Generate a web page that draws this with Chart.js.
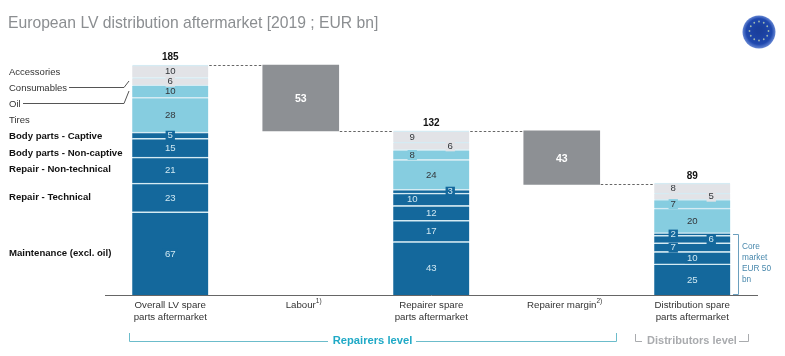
<!DOCTYPE html>
<html>
<head>
<meta charset="utf-8">
<title>European LV distribution aftermarket</title>
<script src="https://cdn.jsdelivr.net/npm/chart.js@4"></script>
<style>
    html, body { margin: 0; padding: 0; background: #fff; }
    canvas { display: block; }
</style>
</head>
<body>
<canvas id="chart" width="785" height="356"></canvas>
<script>
// data (EUR bn), bottom segment first
const categories = [
    ['Overall LV spare', 'parts aftermarket'],
    'Labour',
    ['Repairer spare', 'parts aftermarket'],
    'Repairer margin',
    ['Distribution spare', 'parts aftermarket']
];
const footnotes = ['', '1)', '', '2)', ''];
const totals = [185, null, 132, null, 89];
const floating = [null, [132, 185], null, [89, 132], null];
const maintenance = [67, null, 43, null, 25];
const repairTechnical = [23, null, 17, null, 10];
const repairNonTechnical = [21, null, 12, null, 7];
const bodyNonCaptive = [15, null, 10, null, 6];
const bodyCaptive = [5, null, 3, null, 2];
const tires = [28, null, 24, null, 20];
const oil = [10, null, 8, null, 7];
const consumables = [6, null, 6, null, 5];
const accessories = [10, null, 9, null, 8];
const coreText = ['Core', 'market', 'EUR 50', 'bn'];

const FONT = '"Liberation Sans", Arial, sans-serif';
const DARK = '#14689c';
const LIGHT = '#86cde0';
const PALE = '#e2e3e7';
const GREY = '#8d9094';

// label nudges per bar, so small segments don't collide (-1 left, +1 right)
const SHIFT = 19;
const shifts = {
    2: { maintenance: 0, bodyNonCaptive: -1, bodyCaptive: 1, oil: -1, consumables: 1, accessories: -1 },
    4: { repairNonTechnical: -1, bodyNonCaptive: 1, bodyCaptive: -1, oil: -1, consumables: 1, accessories: -1 }
};

function series(key, label, values, color, bold, labelY) {
    return {
        key, label, data: values, backgroundColor: color, labelY, bold,
        borderColor: '#d5ebf3',
        borderWidth: { top: 1.5, right: 0, bottom: 0, left: 0 },
        borderSkipped: false,
        barThickness: 76
    };
}

const datasets = [
    { key: 'floating', data: floating, backgroundColor: GREY, barThickness: 76 },
    series('maintenance', 'Maintenance (excl. oil)', maintenance, DARK, true, 253),
    series('repairTechnical', 'Repair - Technical', repairTechnical, DARK, true, 197),
    series('repairNonTechnical', 'Repair - Non-technical', repairNonTechnical, DARK, true, 169.5),
    series('bodyNonCaptive', 'Body parts - Non-captive', bodyNonCaptive, DARK, true, 153),
    series('bodyCaptive', 'Body parts - Captive', bodyCaptive, DARK, true, 136.5),
    series('tires', 'Tires', tires, LIGHT, false, 120),
    series('oil', 'Oil', oil, LIGHT, false, 104),
    series('consumables', 'Consumables', consumables, PALE, false, 88),
    series('accessories', 'Accessories', accessories, PALE, false, 72)
];

function text(ctx, str, x, y, font, color, align) {
    ctx.font = font;
    ctx.fillStyle = color;
    ctx.textAlign = align || 'left';
    ctx.textBaseline = 'middle';
    ctx.fillText(str, x, y);
}

function polyline(ctx, points, color, width, dash) {
    ctx.beginPath();
    ctx.strokeStyle = color;
    ctx.lineWidth = width || 1;
    ctx.setLineDash(dash || []);
    points.forEach((p, i) => i ? ctx.lineTo(p[0], p[1]) : ctx.moveTo(p[0], p[1]));
    ctx.stroke();
    ctx.setLineDash([]);
}

// everything Chart.js has no built-in for: value labels, connectors, brackets, logo
const annotations = {
    id: 'annotations',
    afterDatasetsDraw(chart) {
        const { ctx, scales: { x, y } } = chart;
        ctx.save();

        text(ctx, 'European LV distribution aftermarket [2019 ; EUR bn]', 8, 24, '15.7px ' + FONT, '#8b8e91');

        // value labels inside the segments
        datasets.forEach((ds, d) => {
            const meta = chart.getDatasetMeta(d);
            ds.data.forEach((v, i) => {
                if (v === null) return;
                const bar = meta.data[i];
                if (ds.key === 'floating') {
                    text(ctx, String(v[1] - v[0]), bar.x, (bar.y + bar.base) / 2 + 1, 'bold 10.5px ' + FONT, '#fff', 'center');
                    return;
                }
                const shift = (shifts[i] && shifts[i][ds.key]) || 0;
                const cx = bar.x + shift * SHIFT;
                const cy = (bar.y + bar.base) / 2 + 0.5;
                const str = String(v);
                ctx.font = '9.6px ' + FONT;
                const w = ctx.measureText(str).width + 4;
                ctx.fillStyle = ds.backgroundColor;
                ctx.fillRect(cx - w / 2, cy - 5, w, 10);
                const color = ds.backgroundColor === DARK ? '#cfe8f2' : '#33363a';
                text(ctx, str, cx, cy, '9.6px ' + FONT, color, 'center');
            });
        });

        // totals above the stacks
        totals.forEach((t, i) => {
            if (t === null) return;
            const top = y.getPixelForValue(t);
            text(ctx, String(t), x.getPixelForValue(i), top - 8, 'bold 10px ' + FONT, '#111', 'center');
        });

        // dashed steps between the bars
        const half = 38;
        [[0, 1, 185], [1, 2, 132], [2, 3, 132], [3, 4, 89]].forEach(([a, b, level]) => {
            const py = Math.round(y.getPixelForValue(level)) + 0.5;
            polyline(ctx, [[x.getPixelForValue(a) + half + 1, py], [x.getPixelForValue(b) - half - 1, py]], '#666', 1, [2.5, 2]);
        });

        // row names on the left
        datasets.forEach(ds => {
            if (!ds.label) return;
            const font = (ds.bold ? 'bold 9.6px ' : '9.5px ') + FONT;
            text(ctx, ds.label, 9, ds.labelY, font, ds.bold ? '#111' : '#333');
        });
        polyline(ctx, [[69, 87.5], [124, 87.5], [129, 81]], '#555');
        polyline(ctx, [[23, 103.5], [124, 103.5], [129, 91]], '#555');

        // footnote marks next to the axis labels
        footnotes.forEach((note, i) => {
            if (!note) return;
            ctx.font = '9.7px ' + FONT;
            const w = ctx.measureText(categories[i]).width;
            text(ctx, note, x.getPixelForValue(i) + w / 2, 301, '6.5px ' + FONT, '#333');
        });

        // core market bracket
        polyline(ctx, [[733, 234.5], [738.5, 234.5], [738.5, 294.5], [733, 294.5]], '#6b9fbe');
        coreText.forEach((line, i) => {
            text(ctx, line, 742, [247, 258, 269, 280][i], '8.3px ' + FONT, '#4a89ad');
        });

        // level brackets under the axis
        polyline(ctx, [[129.5, 333], [129.5, 341.5], [328, 341.5]], '#6cbccb');
        polyline(ctx, [[416, 341.5], [616.5, 341.5], [616.5, 333]], '#6cbccb');
        text(ctx, 'Repairers level', 372.5, 341, 'bold 11.2px ' + FONT, '#1fa9c6', 'center');
        polyline(ctx, [[635.5, 334], [635.5, 341.5], [642, 341.5]], '#a9abae');
        polyline(ctx, [[739, 341.5], [748.5, 341.5], [748.5, 334]], '#a9abae');
        text(ctx, 'Distributors level', 692, 341, 'bold 11px ' + FONT, '#a9abae', 'center');

        // EU badge
        const grad = ctx.createRadialGradient(759, 30, 3, 759, 32, 17);
        grad.addColorStop(0, '#1a3f9c');
        grad.addColorStop(0.7, '#1f48ae');
        grad.addColorStop(1, '#6f8fd8');
        ctx.fillStyle = grad;
        ctx.beginPath();
        ctx.arc(759, 32, 16.5, 0, Math.PI * 2);
        ctx.fill();
        ctx.fillStyle = '#9fb9b0';
        for (let i = 0; i < 12; i++) {
            const a = i * Math.PI / 6;
            ctx.beginPath();
            ctx.arc(759 + 9.5 * Math.cos(a), 31 + 9.5 * Math.sin(a), 0.9, 0, Math.PI * 2);
            ctx.fill();
        }
        ctx.restore();
    }
};

new Chart(document.getElementById('chart').getContext('2d'), {
    type: 'bar',
    data: { labels: categories, datasets },
    plugins: [annotations],
    options: {
        responsive: false,
        animation: false,
        layout: { padding: { left: 105, right: 27.5, top: 46.4, bottom: 0 } },
        plugins: { legend: { display: false }, tooltip: { enabled: false } },
        scales: {
            x: {
                stacked: true,
                grid: { display: false, drawTicks: false },
                border: { color: '#666', width: 1 },
                ticks: { color: '#333', font: { family: FONT, size: 9.7, lineHeight: 1.25 }, padding: 4, maxRotation: 0, autoSkip: false },
                afterFit: scale => { scale.height = 61; }
            },
            y: { stacked: true, display: false, min: 0, max: 200 }
        }
    }
});
</script>
</body>
</html>
